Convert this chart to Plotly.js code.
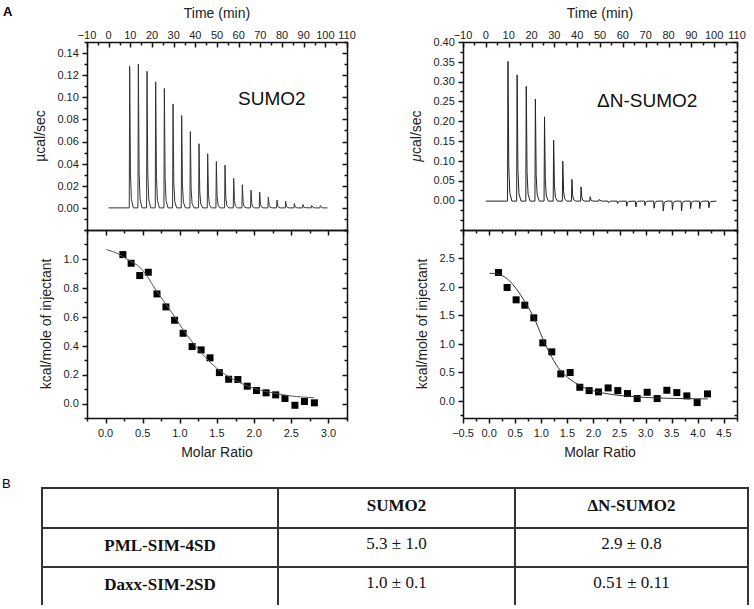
<!DOCTYPE html>
<html><head><meta charset="utf-8">
<script src="https://cdn.plot.ly/plotly-3.0.1.min.js"></script>
<style>html,body{margin:0;padding:0;background:#fff}</style>
</head><body><div id="chart" style="width:754px;height:609px"></div>
<script>
// ---------- data ----------
const injTimeL = [9.5,13.5,17.5,21.5,25.5,29.5,33.5,37.5,41.5,45.5,49.5,53.5,57.5,61.5,65.5,69.5,73.5,77.5,81.5,85.5,89.5,93.5,97.5];
const peakL = [0.128,0.130,0.1235,0.114,0.108,0.094,0.0835,0.069,0.058,0.049,0.042,0.0387,0.0267,0.021,0.016,0.0144,0.0096,0.007,0.006,0.004,0.003,0.002,0.002];
const spanL = [0, 101];
const baseL = 0;

const injTimeR = [9.5,13.5,17.5,21.5,25.5,29.5,33.5,37.5,41.5,45.5,49.5,53.5,57.5,61.5,65.5,69.5,73.5,77.5,81.5,85.5,89.5,93.5,97.5];
const peakR = [0.353,0.319,0.290,0.258,0.213,0.154,0.101,0.055,0.036,0.011,0.004,-0.004,-0.006,-0.013,-0.015,-0.011,-0.018,-0.025,-0.022,-0.025,-0.019,-0.019,-0.017];
const spanR = [0, 101];
const baseR = -0.002;

const molarL = [0.233,0.344,0.46,0.575,0.692,0.813,0.929,1.044,1.165,1.286,1.406,1.532,1.657,1.781,1.907,2.031,2.161,2.29,2.415,2.549,2.677,2.811];
const heatL  = [1.03,0.97,0.885,0.908,0.758,0.668,0.576,0.486,0.394,0.371,0.316,0.214,0.168,0.166,0.12,0.09,0.074,0.06,0.035,-0.012,0.014,0.005];
const fitXL = [0.01,0.15,0.30,0.47,0.69,0.91,1.09,1.27,1.49,1.71,1.98,2.25,2.52,2.81];
const fitYL = [1.065,1.04,0.995,0.938,0.776,0.615,0.477,0.362,0.247,0.17,0.108,0.074,0.051,0.04];

const molarR = [0.179,0.345,0.518,0.684,0.856,1.029,1.201,1.374,1.553,1.738,1.917,2.096,2.281,2.466,2.652,2.837,3.029,3.220,3.406,3.597,3.789,3.987,4.185];
const heatR  = [2.254,1.991,1.774,1.68,1.458,1.019,0.861,0.474,0.498,0.24,0.181,0.158,0.228,0.181,0.129,0.041,0.152,0.041,0.187,0.146,0.088,-0.029,0.123];
const fitXR = [0.01,0.18,0.35,0.52,0.68,0.86,1.03,1.20,1.37,1.55,1.74,1.92,2.28,2.84,3.41,4.19];
const fitYR = [2.24,2.225,2.14,1.97,1.75,1.46,1.09,0.77,0.53,0.38,0.27,0.20,0.123,0.07,0.047,0.035];

const timeTicks = [-10,0,10,20,30,40,50,60,70,80,90,100,110];
const powerTicksL = [0,0.02,0.04,0.06,0.08,0.10,0.12,0.14];
const powerTicksR = [0,0.05,0.10,0.15,0.20,0.25,0.30,0.35,0.40];
const heatTicksL = [0,0.2,0.4,0.6,0.8,1.0];
const heatTicksR = [0,0.5,1.0,1.5,2.0,2.5];
const molarTicksL = [0,0.5,1.0,1.5,2.0,2.5,3.0];
const molarTicksR = [-0.5,0,0.5,1.0,1.5,2.0,2.5,3.0,3.5,4.0,4.5];

const tableHeader = ['', 'SUMO2', 'ΔN-SUMO2'];
const tableRows = ['PML-SIM-4SD', 'Daxx-SIM-2SD'];
const kdSUMO2 = ['5.3 ± 1.0', '1.0 ± 0.1'];
const kdDeltaN = ['2.9 ± 0.8', '0.51 ± 0.11'];

// axis ranges
const timeRange = [-10, 110];
const powerRangeL = [-0.02, 0.15], powerRangeR = [-0.075, 0.40];
const molarRangeL = [-0.25, 3.25], molarRangeR = [-0.5, 4.75];
const heatRangeL = [-0.1, 1.2], heatRangeR = [-0.3, 3.0];

// ---------- drawing ----------
// spike profile (shape of one injection peak: minutes after injection, fraction of peak)
const spikeDt = [0, 0.2, 0.55, 1.0, 1.9];
const spikeFrac = [0, 1, 0.25, 0.06, 0];
function thermo(times, peaks, span, base) {
  const x = [span[0]], y = [base];
  times.forEach((t, i) => {
    spikeDt.forEach((d, j) => { x.push(t + d); y.push(base + peaks[i] * spikeFrac[j]); });
  });
  x.push(span[1]); y.push(base);
  return {x, y};
}
const tL = thermo(injTimeL, peakL, spanL, baseL);
const tR = thermo(injTimeR, peakR, spanR, baseR);

const W = 754, H = 609;
const xL = [87/W, 347/W], xR = [463/W, 737/W];
const yTop = [1-230/H, 1-42/H], yBot = [1-418/H, 1-230/H];
const FONT = 'Liberation Sans, Arial, sans-serif';
const INK = '#222';
const CLEAR = 'rgba(0,0,0,0)';

// frames and tick marks, placed through each panel's own range on a full-page helper axis pair
const decoX = [], decoY = [];
function seg(x0, y0, x1, y1) { decoX.push(x0, x1, null); decoY.push(y0, y1, null); }
function steps(r, s) {
  const out = [];
  for (let k = Math.ceil((r[0] - 1e-9) / s); k * s <= r[1] + 1e-9; k++) out.push(+(k * s).toFixed(6));
  return out;
}
function panel(xd, yd, rx, ry, o) {
  const L = Math.round(xd[0] * W) + 0.5, R = Math.round(xd[1] * W) + 0.5;
  const T = Math.round((1 - yd[1]) * H) + 0.5, B = Math.round((1 - yd[0]) * H) + 0.5;
  const mx = v => Math.round(L + (v - rx[0]) / (rx[1] - rx[0]) * (R - L) - 0.5) + 0.5;
  const my = v => Math.round(B - (v - ry[0]) / (ry[1] - ry[0]) * (B - T) - 0.5) + 0.5;
  decoX.push(L, R, R, L, L, null); decoY.push(B, B, T, T, B, null);
  const isMaj = (list, v) => list.some(m => Math.abs(m - v) < 1e-9);
  const yt = (vals, len) => vals.forEach(v => {
    if (v < ry[0] - 1e-9 || v > ry[1] + 1e-9) return;
    const y = my(v); seg(L - len, y, L, y); seg(R - len, y, R, y);
  });
  const xt = (vals, len) => vals.forEach(v => {
    if (v < rx[0] - 1e-9 || v > rx[1] + 1e-9) return;
    const x = mx(v); seg(x, T, x, T + len);
    if (o.bottom) seg(x, B, x, B + len);
  });
  yt(o.yMaj, 5); yt(steps(ry, o.yMin).filter(v => !isMaj(o.yMaj, v)), 3);
  xt(o.xMaj, 5); xt(steps(rx, o.xMin).filter(v => !isMaj(o.xMaj, v)), 3);
}
panel(xL, yTop, timeRange, powerRangeL, {xMaj: timeTicks, xMin: 5, yMaj: powerTicksL, yMin: 0.01, bottom: false});
panel(xL, yBot, molarRangeL, heatRangeL, {xMaj: molarTicksL, xMin: 0.25, yMaj: heatTicksL, yMin: 0.1, bottom: true});
panel(xR, yTop, timeRange, powerRangeR, {xMaj: timeTicks, xMin: 5, yMaj: powerTicksR, yMin: 0.025, bottom: false});
panel(xR, yBot, molarRangeR, heatRangeR, {xMaj: molarTicksR, xMin: 0.25, yMaj: heatTicksR, yMin: 0.25, bottom: true});

function base(extra) {
  return Object.assign({
    showline: false, showgrid: false, zeroline: false,
    ticks: 'outside', ticklen: 5, tickwidth: 1, tickcolor: CLEAR,
    tickfont: {family: FONT, size: 11, color: INK},
    tickmode: 'array', autorange: false, fixedrange: true
  }, extra);
}
const titleFont = {family: FONT, size: 14, color: INK};

const traces = [
  {type: 'scatter', mode: 'lines', x: tL.x, y: tL.y, xaxis: 'x', yaxis: 'y',
   line: {color: '#333', width: 1}, hoverinfo: 'skip'},
  {type: 'scatter', mode: 'markers', x: molarL, y: heatL, xaxis: 'x2', yaxis: 'y2',
   marker: {symbol: 'square', size: 7, color: '#000'}},
  {type: 'scatter', mode: 'lines', x: fitXL, y: fitYL, xaxis: 'x2', yaxis: 'y2',
   line: {color: '#555', width: 1, shape: 'spline'}},
  {type: 'scatter', mode: 'lines', x: tR.x, y: tR.y, xaxis: 'x3', yaxis: 'y3',
   line: {color: '#222', width: 1}, hoverinfo: 'skip'},
  {type: 'scatter', mode: 'markers', x: molarR, y: heatR, xaxis: 'x4', yaxis: 'y4',
   marker: {symbol: 'square', size: 7, color: '#000'}},
  {type: 'scatter', mode: 'lines', x: fitXR, y: fitYR, xaxis: 'x4', yaxis: 'y4',
   line: {color: '#333', width: 1, shape: 'spline'}},
  {type: 'scatter', mode: 'lines', x: decoX, y: decoY, xaxis: 'x9', yaxis: 'y9',
   line: {color: '#111', width: 1.5}, connectgaps: false, hoverinfo: 'skip'},
  {type: 'table',
   domain: {x: [42/W, 748/W], y: [1-606/H, 1-488/H]},
   columnwidth: [236, 237, 233],
   header: {values: tableHeader.map(v => v ? '<b>' + v + '</b>' : ''), height: 40, align: 'center',
            font: {family: 'Liberation Serif, Times New Roman, serif', size: 17, color: '#111'},
            line: {color: '#333', width: 1.5}, fill: {color: '#fff'}},
   cells: {values: [tableRows.map(v => '<b>' + v + '</b>'), kdSUMO2, kdDeltaN], height: 39, align: 'center',
           font: {family: 'Liberation Serif, Times New Roman, serif', size: 17, color: '#111'},
           line: {color: '#333', width: 1.5}, fill: {color: '#fff'}}}
];

const layout = {
  width: W, height: H, margin: {l: 0, r: 0, t: 0, b: 0},
  paper_bgcolor: '#fff', plot_bgcolor: CLEAR, showlegend: false,
  font: {family: FONT, color: INK},
  xaxis: base({domain: xL, anchor: 'y', side: 'top', range: timeRange, tickvals: timeTicks, ticks: 'inside',
    title: {text: 'Time (min)', font: titleFont, standoff: 6}}),
  yaxis: base({domain: yTop, anchor: 'x', range: powerRangeL, tickvals: powerTicksL, tickformat: '.2f',
    title: {text: 'µcal/sec', font: titleFont, standoff: 8}}),
  xaxis2: base({domain: xL, anchor: 'y2', range: molarRangeL, tickvals: molarTicksL, tickformat: '.1f',
    title: {text: 'Molar Ratio', font: titleFont, standoff: 8}}),
  yaxis2: base({domain: yBot, anchor: 'x2', range: heatRangeL, tickvals: heatTicksL, tickformat: '.1f',
    title: {text: 'kcal/mole of injectant', font: titleFont, standoff: 8}}),
  xaxis3: base({domain: xR, anchor: 'y3', side: 'top', range: timeRange, tickvals: timeTicks, ticks: 'inside',
    title: {text: 'Time (min)', font: titleFont, standoff: 6}}),
  yaxis3: base({domain: yTop, anchor: 'x3', range: powerRangeR, tickvals: powerTicksR, tickformat: '.2f',
    title: {text: '<i>μ</i>cal/sec', font: titleFont, standoff: 8}}),
  xaxis4: base({domain: xR, anchor: 'y4', range: molarRangeR, tickvals: molarTicksR, tickformat: '.1f',
    title: {text: 'Molar Ratio', font: titleFont, standoff: 8}}),
  yaxis4: base({domain: yBot, anchor: 'x4', range: heatRangeR, tickvals: heatTicksR, tickformat: '.1f',
    title: {text: 'kcal/mole of injectant', font: titleFont, standoff: 8}}),
  xaxis9: {domain: [0, 1], anchor: 'y9', range: [0, W], visible: false, fixedrange: true, autorange: false},
  yaxis9: {domain: [0, 1], anchor: 'x9', range: [H, 0], visible: false, fixedrange: true, autorange: false},
  annotations: [
    {text: 'SUMO2', xref: 'paper', yref: 'paper', x: 272/W, y: 1-98/H, xanchor: 'center', yanchor: 'middle',
     showarrow: false, font: {family: FONT, size: 19, color: '#111'}},
    {text: 'ΔN-SUMO2', xref: 'paper', yref: 'paper', x: 647/W, y: 1-100/H, xanchor: 'center', yanchor: 'middle',
     showarrow: false, font: {family: FONT, size: 19, color: '#111'}},
    {text: '<b>A</b>', xref: 'paper', yref: 'paper', x: 8/W, y: 1-12/H, xanchor: 'center', yanchor: 'middle',
     showarrow: false, font: {family: FONT, size: 13, color: '#000'}},
    {text: 'B', xref: 'paper', yref: 'paper', x: 6/W, y: 1-483/H, xanchor: 'center', yanchor: 'middle',
     showarrow: false, font: {family: FONT, size: 13, color: '#000'}}
  ]
};

Plotly.newPlot('chart', traces, layout, {displayModeBar: false, staticPlot: true});
</script></body></html>
